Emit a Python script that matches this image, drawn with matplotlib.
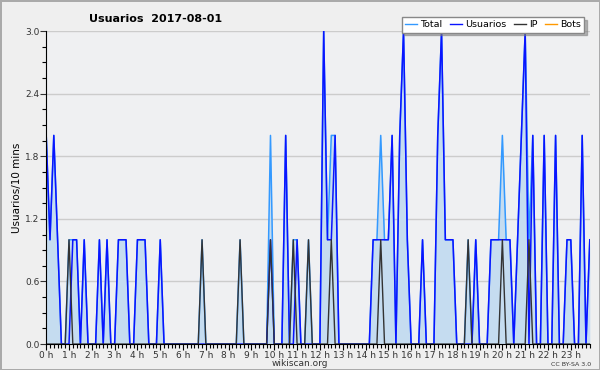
import numpy as np
import matplotlib.pyplot as plt
from matplotlib.ticker import MultipleLocator

# 10-minute buckets for 2017-08-01 (144 values, 00:00 .. 23:50)
usuarios = [2, 1, 2, 1, 0, 0, 0, 1, 1, 0, 1, 0, 0, 0, 1, 0, 1, 0, 0, 1,
            1, 1, 0, 0, 1, 1, 1, 0, 0, 0, 1, 0, 0, 0, 0, 0, 0, 0, 0, 0,
            0, 0, 0, 0, 0, 0, 0, 0, 0, 0, 0, 0, 0, 0, 0, 0, 0, 0, 0, 1,
            0, 0, 0, 2, 0, 0, 1, 0, 0, 0, 0, 0, 0, 3, 1, 1, 2, 0, 0, 0,
            0, 0, 0, 0, 0, 0, 1, 1, 1, 1, 1, 2, 0, 2, 3, 1, 0, 0, 0, 1,
            0, 0, 0, 2, 3, 1, 1, 1, 0, 0, 0, 0, 0, 1, 0, 0, 0, 1, 1, 1,
            1, 1, 1, 0, 1, 2, 3, 0, 2, 0, 0, 2, 0, 0, 2, 0, 0, 1, 1, 0,
            0, 2, 0, 1]
ip = [0] * 144
for k in [6, 41, 51, 59, 65, 69, 75, 88, 111, 120, 127]:
    ip[k] = 1
bots = [0] * 144

usuarios = np.array(usuarios)
ip = np.array(ip)
bots = np.array(bots)
total = usuarios + ip + bots
hours = np.arange(len(total)) / 6.0

fig = plt.figure(figsize=(6, 3.7), dpi=100)
fig.patch.set_facecolor('#efefef')
fig.patch.set_edgecolor('#aaaaaa')
fig.patch.set_linewidth(2)
ax = fig.add_axes([0.077, 0.07, 0.906, 0.846])
ax.set_facecolor('#eff0f2')

ax.fill_between(hours, total, color='#c5dcf0', lw=0)
ax.plot(hours, total, color='#3399ff', lw=1.1)
ax.plot(hours, usuarios, color='#0a14ff', lw=1.1)
ax.plot(hours, ip, color='#333333', lw=1.0)

ax.set_xlim(0, 143 / 6.0)
ax.set_ylim(0, 3.0)
ax.set_xticks(range(24))
ax.set_xticklabels(['%d h' % h for h in range(24)], fontsize=6.5, color='#333333')
ax.xaxis.set_minor_locator(MultipleLocator(1 / 6.0))
ax.yaxis.set_major_locator(MultipleLocator(0.6))
ax.yaxis.set_minor_locator(MultipleLocator(0.15))
ax.yaxis.set_major_formatter(plt.FormatStrFormatter('%.1f'))
ax.tick_params(axis='y', labelsize=6.5, colors='#333333')
ax.tick_params(which='major', length=4, width=0.8, pad=1)
ax.tick_params(which='minor', length=3, width=0.8)
ax.grid(axis='y', color='#cccccc', lw=1)
ax.set_axisbelow(True)
for s in ['top', 'right']:
    ax.spines[s].set_visible(False)
for s in ['left', 'bottom']:
    ax.spines[s].set_color('black')

ax.set_ylabel('Usuarios/10 mins', fontsize=7.5, labelpad=2)
fig.text(0.5, 0.012, 'wikiscan.org', fontsize=6.5, ha='center', color='#333333')
fig.text(0.148, 0.94, 'Usuarios  2017-08-01', fontsize=8, fontweight='bold')
fig.text(0.985, 0.012, 'CC BY-SA 3.0', fontsize=4.5, ha='right', color='#333333')

h = [plt.Line2D([], [], color=c, lw=1) for c in ['#3399ff', '#0a14ff', '#333333', '#ff9900']]
leg = ax.legend(h, ['Total', 'Usuarios', 'IP', 'Bots'], ncol=4, fontsize=6.8,
                loc='upper right', bbox_to_anchor=(0.998, 1.06), handlelength=1.3,
                handletextpad=0.3, columnspacing=0.8, borderpad=0.35,
                fancybox=False, shadow={'color': '#777777'}, framealpha=1)
leg.get_frame().set_edgecolor('#888888')

fig.savefig('out.png', dpi=100, facecolor=fig.get_facecolor(),
            edgecolor=fig.get_edgecolor())
